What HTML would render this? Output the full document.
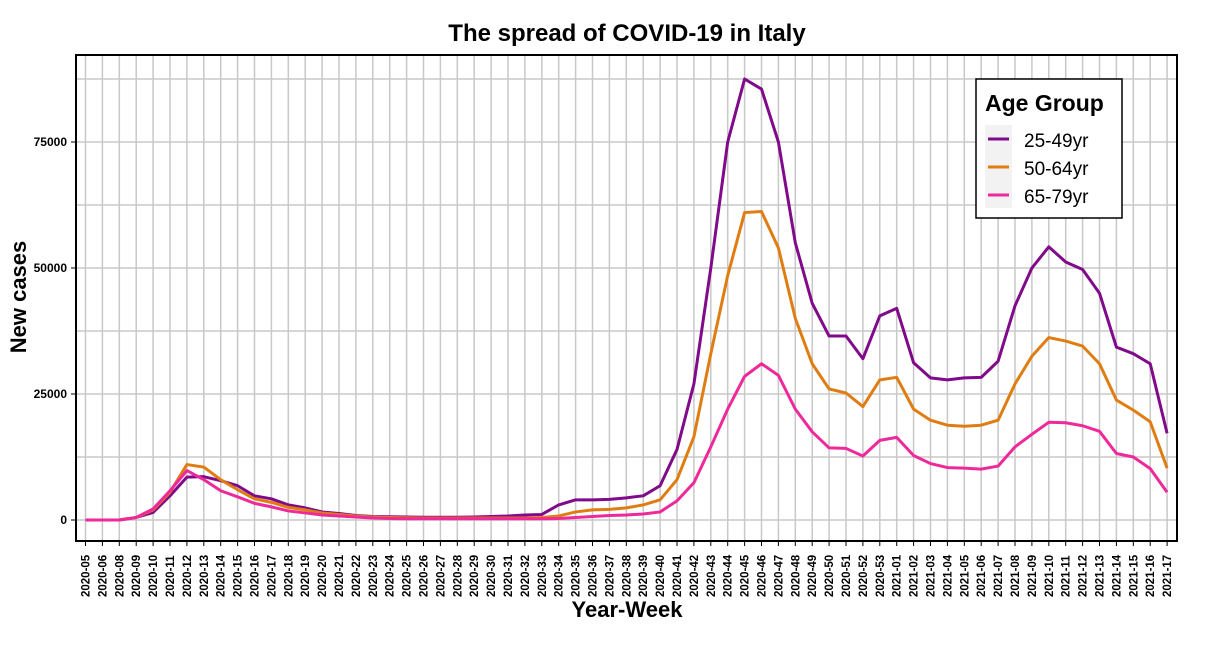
<!DOCTYPE html>
<html><head><meta charset="utf-8"><style>
body{margin:0;background:#fff;}
svg text{font-family:"Liberation Sans",sans-serif;}
</style></head><body>
<svg id="chart" width="1210" height="643" xmlns="http://www.w3.org/2000/svg">
<text x="627" y="41" text-anchor="middle" font-size="24" font-weight="bold">The spread of COVID-19 in Italy</text>
<text transform="translate(26,297) rotate(-90)" text-anchor="middle" font-size="22" font-weight="bold">New cases</text>
<text x="627" y="617" text-anchor="middle" font-size="22" font-weight="bold">Year-Week</text>
<g id="grid"></g>
<g id="axes"></g>
<g id="lines"></g>
<rect x="76" y="55" width="1101" height="486" fill="none" stroke="#000" stroke-width="2"/>
<g>
<rect x="976" y="79" width="146" height="139" fill="#fff" stroke="#000" stroke-width="1.5"/>
<text x="985" y="111" font-size="23" font-weight="bold">Age Group</text>
<rect x="985" y="125" width="27" height="83" fill="#f2f2f2"/>
<line x1="988" x2="1009" y1="139" y2="139" stroke="#800a8a" stroke-width="3"/>
<text x="1024" y="147" font-size="19">25-49yr</text>
<line x1="988" x2="1009" y1="167" y2="167" stroke="#e07d12" stroke-width="3"/>
<text x="1024" y="175" font-size="19">50-64yr</text>
<line x1="988" x2="1009" y1="195" y2="195" stroke="#ee2a9a" stroke-width="3"/>
<text x="1024" y="203" font-size="19">65-79yr</text>
</g>
</svg>
<script>
const categories=["2020-05","2020-06","2020-08","2020-09","2020-10","2020-11","2020-12","2020-13","2020-14","2020-15","2020-16","2020-17","2020-18","2020-19","2020-20","2020-21","2020-22","2020-23","2020-24","2020-25","2020-26","2020-27","2020-28","2020-29","2020-30","2020-31","2020-32","2020-33","2020-34","2020-35","2020-36","2020-37","2020-38","2020-39","2020-40","2020-41","2020-42","2020-43","2020-44","2020-45","2020-46","2020-47","2020-48","2020-49","2020-50","2020-51","2020-52","2020-53","2021-01","2021-02","2021-03","2021-04","2021-05","2021-06","2021-07","2021-08","2021-09","2021-10","2021-11","2021-12","2021-13","2021-14","2021-15","2021-16","2021-17"];
const age25to49=[0,0,0,500,1500,4800,8500,8600,7800,6800,4800,4200,3000,2400,1600,1300,900,700,650,600,550,550,550,600,700,800,1000,1100,3000,4000,4000,4100,4400,4800,6800,14000,27000,50000,75000,87500,85500,75000,55000,43000,36500,36500,32000,40500,42000,31200,28200,27800,28200,28300,31500,42500,50000,54200,51200,49700,45000,34300,33000,31000,17200];
const age50to64=[0,0,0,500,2000,5500,11000,10500,8000,6000,4200,3500,2500,2000,1400,1100,800,600,500,450,400,400,400,400,400,400,400,500,800,1600,2000,2100,2400,3000,4000,8000,16500,33000,48500,61000,61200,54000,40000,31000,26000,25200,22500,27800,28300,22000,19800,18800,18600,18800,19800,27000,32500,36200,35500,34500,31000,23800,21800,19500,10300];
const age65to79=[0,0,0,500,2200,5800,9800,8000,5800,4600,3300,2600,1800,1400,1000,800,600,400,300,250,250,250,250,250,250,250,250,250,300,500,700,900,1000,1200,1600,3800,7400,14500,22000,28500,31000,28700,22000,17500,14300,14200,12700,15800,16400,12800,11200,10400,10300,10100,10700,14500,17000,19400,19300,18700,17600,13200,12500,10200,5500];
const yTicks=[0,25000,50000,75000];
const yMinor=[12500,37500,62500,87500];
const NS="http://www.w3.org/2000/svg";
const X=i=>85.5+i*16.9;
const Y=v=>520-v*126/25000;
function mk(t,a,p){const e=document.createElementNS(NS,t);for(const k in a)e.setAttribute(k,a[k]);p.appendChild(e);return e;}
const grid=document.getElementById('grid'),axes=document.getElementById('axes'),lines=document.getElementById('lines');
yMinor.concat(yTicks).forEach(v=>{const l=mk('line',{x1:76,x2:1177,y1:Y(v),y2:Y(v),stroke:'#c8c8c8','stroke-width':1.5},grid);

});
categories.forEach((c,i)=>{const l=mk('line',{x1:X(i),x2:X(i),y1:55,y2:541,stroke:'#c8c8c8','stroke-width':1.5},grid);


const tk=mk('line',{x1:X(i),x2:X(i),y1:541,y2:546,stroke:'#000','stroke-width':1},axes);


const t=mk('text',{transform:`translate(${X(i)+4},597) rotate(-90)`,'font-size':11.5,'font-weight':'bold'},axes);
t.textContent=c;

});
yTicks.forEach(v=>{const tk=mk('line',{x1:71,x2:76,y1:Y(v),y2:Y(v),stroke:'#000','stroke-width':1},axes);


const t=mk('text',{x:67,y:Y(v)+4,'text-anchor':'end','font-size':12,'font-weight':'bold'},axes);
t.textContent=v;

});
[[age25to49,'#800a8a','line-25-49yr'],[age50to64,'#e07d12','line-50-64yr'],[age65to79,'#ee2a9a','line-65-79yr']].forEach(([d,c,n])=>{
const p=mk('polyline',{points:d.map((v,i)=>X(i)+','+Y(v)).join(' '),fill:'none',stroke:c,'stroke-width':3,'stroke-linejoin':'round'},lines);

});
</script>
</body></html>
